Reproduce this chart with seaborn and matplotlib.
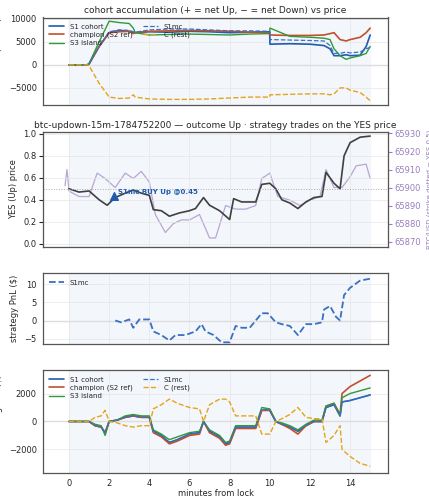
import numpy as np
import matplotlib
matplotlib.use("Agg")
import matplotlib.pyplot as plt
import seaborn as sns

sns.set_style("whitegrid")
plt.rcParams["font.family"] = ["DejaVu Sans"]

# --- panel 1: accumulated net YES shares
t1 = [0, 0.9, 1.0, 1.5, 2.0, 2.5, 3.0, 3.2, 3.3, 4.0, 5.0, 6.0, 7.0, 8.0, 9.0, 9.99, 10.01, 11.0, 12.0, 12.7, 13.0, 13.2, 13.5, 13.8, 14.0, 14.5, 14.8, 15.0]
acc_s1 = [0, 0, 200, 4000, 7000, 7500, 7300, 7000, 7000, 7200, 7100, 7300, 7200, 7000, 7100, 7200, 4500, 4600, 4500, 4200, 3500, 2000, 2000, 2200, 2000, 2100, 4000, 6500]
acc_champ = [0, 0, 200, 4000, 7000, 7200, 7300, 6800, 7000, 7300, 7400, 7500, 7400, 7300, 7100, 7000, 6500, 6400, 6400, 6500, 6800, 7000, 5500, 5200, 5500, 6000, 7000, 8000]
acc_s3 = [0, 0, 300, 5000, 9500, 9200, 9000, 8000, 7000, 6500, 6600, 6700, 6600, 6500, 6700, 6800, 8000, 6200, 6000, 5800, 5500, 3500, 2000, 1200, 1500, 2000, 2500, 4000]
acc_s1mc = [0, 0, 200, 4000, 7200, 7600, 7500, 7200, 7100, 7600, 7800, 7800, 7600, 7400, 7400, 7300, 5500, 5400, 5300, 5200, 4200, 2500, 2500, 2800, 2600, 2800, 3500, 3800]
acc_rest = [0, 0, -200, -4000, -7000, -7300, -7200, -6500, -7000, -7400, -7500, -7500, -7400, -7200, -7000, -7000, -6500, -6400, -6300, -6300, -6500, -6300, -5000, -5000, -5500, -6000, -7000, -7800]

# --- panel 2: YES price and BTC
t2 = [0, 0.5, 1.0, 1.5, 1.9, 2.3, 2.8, 3.2, 3.6, 4.0, 4.2, 4.6, 5.0, 5.5, 6.0, 6.3, 6.7, 7.0, 7.5, 8.0, 8.2, 8.6, 9.0, 9.3, 9.6, 10.0, 10.3, 10.6, 11.0, 11.4, 11.8, 12.2, 12.6, 12.8, 13.2, 13.5, 13.7, 14.0, 14.5, 15.0]
yes = [0.50, 0.47, 0.48, 0.40, 0.35, 0.42, 0.46, 0.49, 0.46, 0.44, 0.31, 0.30, 0.25, 0.28, 0.30, 0.32, 0.42, 0.35, 0.30, 0.22, 0.41, 0.38, 0.38, 0.38, 0.54, 0.55, 0.50, 0.40, 0.37, 0.32, 0.38, 0.42, 0.43, 0.65, 0.55, 0.50, 0.80, 0.92, 0.97, 0.98]
t_btc = [-0.2, -0.1, 0.0, 0.5, 1.0, 1.4, 1.8, 2.3, 2.8, 3.2, 3.6, 4.0, 4.3, 4.8, 5.2, 5.6, 6.0, 6.5, 7.0, 7.3, 7.8, 8.3, 8.8, 9.3, 9.6, 10.0, 10.4, 11.0, 11.5, 12.0, 12.5, 12.8, 13.2, 13.6, 14.0, 14.3, 14.8, 15.0]
btc = [65901, 65910, 65898, 65895, 65895, 65908, 65905, 65900, 65908, 65905, 65909, 65903, 65885, 65875, 65880, 65882, 65882, 65885, 65872, 65872, 65890, 65888, 65888, 65890, 65905, 65908, 65895, 65893, 65890, 65893, 65895, 65910, 65900, 65900, 65906, 65912, 65913, 65905]
buy_t = [2.25]
buy_p = [0.43]

# --- panel 3: strategy PnL
t3 = [2.3, 2.6, 3.0, 3.2, 3.5, 4.0, 4.2, 4.6, 5.0, 5.3, 5.8, 6.3, 6.6, 6.8, 7.2, 7.6, 8.0, 8.3, 8.6, 9.0, 9.3, 9.6, 9.9, 10.3, 10.6, 11.0, 11.4, 11.8, 12.2, 12.6, 12.7, 13.0, 13.3, 13.5, 13.7, 14.0, 14.5, 15.0]
pnl_s1mc = [0, -0.5, 0.3, -2, 0.3, 0.3, -3, -4, -5.5, -4, -4, -3, -1, -3, -4, -6, -6, -1.5, -2, -2, 0, 2, 2, -0.5, -1, -1.5, -4, -1, -1, -0.5, 3, 4, 1, 0, 7, 9, 11, 11.5]

# --- panel 4: cohort moving PnL
t4 = [0, 1.0, 1.3, 1.6, 1.8, 2.0, 2.4, 2.8, 3.2, 3.6, 4.0, 4.2, 4.6, 5.0, 5.4, 6.0, 6.5, 6.7, 7.0, 7.5, 7.8, 8.0, 8.3, 9.0, 9.3, 9.6, 10.0, 10.3, 10.6, 11.0, 11.4, 11.8, 12.2, 12.6, 12.8, 13.2, 13.5, 13.6, 14.0, 14.5, 15.0]
mp_s1 = [0, 0, -300, -400, -800, 0, 100, 300, 400, 300, 300, -700, -1000, -1500, -1300, -900, -800, 0, -700, -1100, -1600, -1500, -400, -400, -400, 800, 800, 0, -200, -400, -700, -300, 0, 0, 1000, 1200, 400, 1400, 1500, 1700, 1900]
mp_champ = [0, 0, -300, -400, -800, 0, 100, 300, 400, 300, 300, -800, -1100, -1600, -1400, -1000, -900, 0, -800, -1200, -1700, -1600, -500, -500, -500, 800, 800, 0, -200, -500, -900, -300, 0, 0, 1100, 1300, 500, 2000, 2500, 2900, 3300]
mp_s3 = [0, 0, -200, -300, -1000, 0, 100, 400, 500, 400, 400, -600, -900, -1300, -1100, -800, -700, 0, -600, -1000, -1500, -1400, -300, -300, -300, 1000, 900, 0, -100, -300, -600, -200, 100, 100, 1100, 1300, 400, 1700, 2000, 2200, 2400]
mp_s1mc = [0, 0, -300, -400, -800, 0, 100, 300, 400, 300, 300, -700, -1000, -1500, -1300, -900, -800, 0, -700, -1100, -1600, -1500, -400, -400, -400, 900, 800, 0, -200, -400, -700, -300, 0, 0, 1000, 1200, 400, 1400, 1500, 1700, 1900]
mp_rest = [0, 0, 300, 400, 800, 0, -100, -300, -400, -300, -300, 900, 1200, 1600, 1300, 1000, 900, 0, 1200, 1600, 1600, 1400, 400, 400, 400, -900, -900, 0, 200, 500, 1000, 300, 200, 200, -1500, -1000, -300, -2000, -2500, -3000, -3200]

C_S1, C_CH, C_S3, C_MC, C_REST = "#1f5cb0", "#c1502b", "#2e9a3a", "#3a6fc4", "#e4a419"
BG = "#f3f6fb"

fig, axes = plt.subplots(4, 1, figsize=(4.29, 5.0), dpi=100, sharex=True,
                         gridspec_kw=dict(height_ratios=[93, 122, 75, 108]))
fig.subplots_adjust(left=0.1, right=0.905, top=0.965, bottom=0.055, hspace=0.28)

def cohort(ax, t, s1, ch, s3, mc, rest):
    ax.plot(t, s1, color=C_S1, lw=1.2, label="S1 cohort")
    ax.plot(t, ch, color=C_CH, lw=1.2, label="champion (S2 ref)")
    ax.plot(t, s3, color=C_S3, lw=1.0, label="S3 island")
    ax.plot(t, mc, color=C_MC, lw=0.9, ls="--", label="S1mc")
    ax.plot(t, rest, color=C_REST, lw=1.0, ls="--", label="C (rest)")
    ax.legend(ncol=2, loc="upper left", fontsize=5, frameon=False, handlelength=2.2,
              columnspacing=1.5, labelspacing=0.3)

for i, ax in enumerate(axes):
    if i != 1:
        ax.axvspan(0, 15, color=BG, zorder=0)
    ax.tick_params(labelsize=6, length=3, pad=1.5)
    ax.grid(True, color="#e6e6e6", lw=0.5)
    for s in ax.spines.values():
        s.set_color("#555555")
        s.set_linewidth(0.9)

ax = axes[0]
cohort(ax, t1, acc_s1, acc_champ, acc_s3, acc_s1mc, acc_rest)
ax.axhline(0, color="#dddddd", lw=1.0, zorder=1)
ax.set_ylim(-8800, 10300)
ax.set_yticks([-5000, 0, 5000, 10000])
ax.set_ylabel("acc. net YES (shares)", fontsize=6)
ax.set_title("cohort accumulation (+ = net Up, − = net Down) vs price", fontsize=6.5, pad=3)

ax = axes[1]
ax2 = ax.twinx()
ax2.axvspan(0, 15, color=BG, zorder=0)
ax2.plot(t_btc, btc, color="#b8a6d4", lw=0.9)
ax2.set_ylim(65867, 65931)
ax2.set_yticks([65870, 65880, 65890, 65900, 65910, 65920, 65930])
ax2.tick_params(labelsize=6, colors="#9a7fbf", length=3, pad=1.5)
ax2.set_ylabel("BTC/USD (strike dotted = YES 0.5)", fontsize=5, color="#9a7fbf")
ax2.grid(False)
ax.set_zorder(ax2.get_zorder() + 1)
ax.patch.set_visible(False)
ax.plot(t2, yes, color="#404040", lw=1.2)
ax.axhline(0.5, color="#aaaaaa", lw=0.7, ls=":")
ax.scatter(buy_t, buy_p, marker="^", s=30, color=C_S1, zorder=5)
ax.annotate("S1mc BUY Up @0.45", (buy_t[0], buy_p[0]), xytext=(3, 2), textcoords="offset points",
            fontsize=5, color=C_S1, fontweight="bold")
ax.set_ylim(-0.03, 1.02)
ax.set_ylabel("YES (Up) price", fontsize=6)
ax.set_title("btc-updown-15m-1784752200 — outcome Up · strategy trades on the YES price", fontsize=6.5, pad=3)

ax = axes[2]
ax.plot(t3, pnl_s1mc, color=C_MC, lw=1.3, ls="--", label="S1mc")
ax.axhline(0, color="#dddddd", lw=1.0, zorder=1)
ax.legend(loc="upper left", fontsize=5, frameon=False, handlelength=2.2)
ax.set_ylim(-6.5, 13)
ax.set_yticks([-5, 0, 5, 10])
ax.set_ylabel("strategy PnL ($)", fontsize=6)

ax = axes[3]
cohort(ax, t4, mp_s1, mp_champ, mp_s3, mp_s1mc, mp_rest)
ax.axhline(0, color="#dddddd", lw=1.0, zorder=1)
ax.set_ylim(-3650, 3650)
ax.set_yticks([-2000, 0, 2000])
ax.set_ylabel("cohort moving PnL ($)", fontsize=6)
ax.set_xlabel("minutes from lock", fontsize=6, labelpad=1)
ax.set_xlim(-1.3, 15.9)
ax.set_xticks([0, 2, 4, 6, 8, 10, 12, 14])

fig.savefig("out.png", dpi=100)
